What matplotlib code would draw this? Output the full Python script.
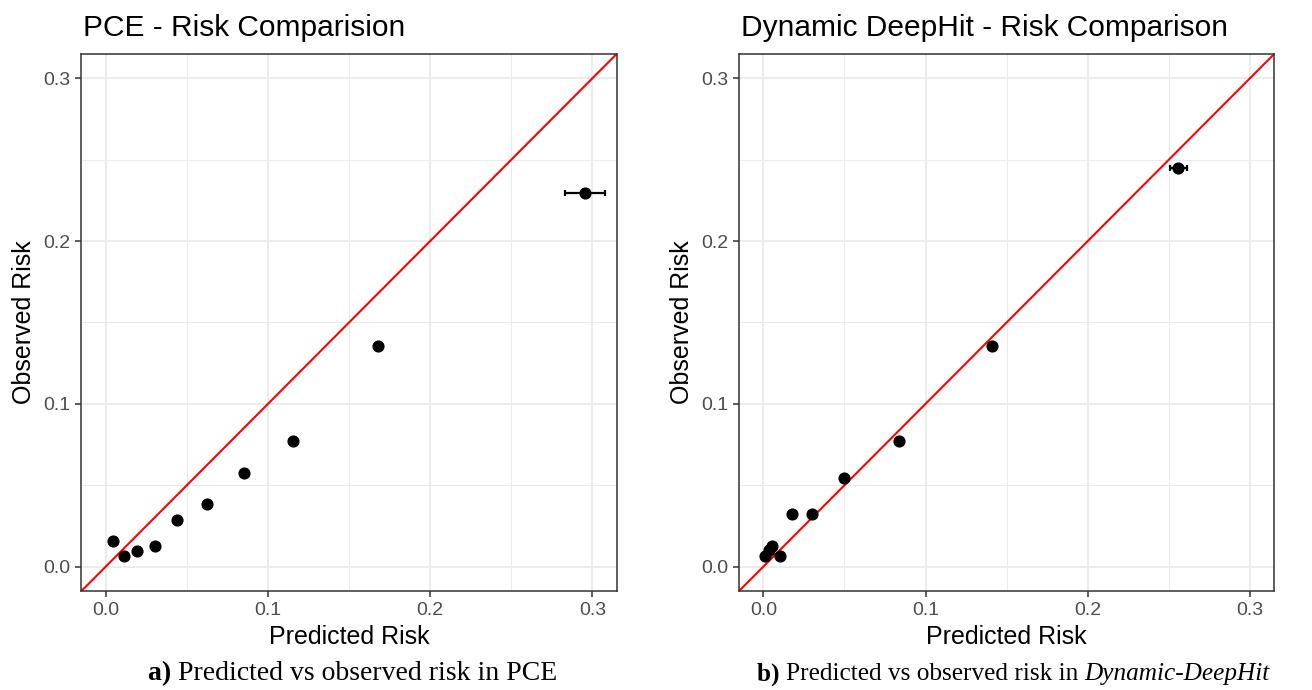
import numpy as np
import matplotlib
matplotlib.use("Agg")
import matplotlib.pyplot as plt

plt.rcParams['font.family'] = ['Liberation Sans', 'DejaVu Sans']

# данные: PCE
pce_pred = [0.0042, 0.0110, 0.0193, 0.0306, 0.0440, 0.0622, 0.0851, 0.1156, 0.1678, 0.2955]
pce_obs = [0.0159, 0.0062, 0.0093, 0.0126, 0.0287, 0.0384, 0.0577, 0.0774, 0.1355, 0.2296]
pce_lo = [0.0042, 0.0110, 0.0193, 0.0306, 0.0440, 0.0622, 0.0851, 0.1156, 0.1678, 0.2831]
pce_hi = [0.0042, 0.0110, 0.0193, 0.0306, 0.0440, 0.0622, 0.0851, 0.1156, 0.1678, 0.3078]

# данные: Dynamic DeepHit
ddh_pred = [0.0008, 0.0035, 0.0056, 0.0103, 0.0175, 0.0299, 0.0499, 0.0835, 0.1407, 0.2558]
ddh_obs = [0.0062, 0.0103, 0.0128, 0.0062, 0.0320, 0.0320, 0.0546, 0.0769, 0.1355, 0.2450]
ddh_lo = [0.0008, 0.0035, 0.0056, 0.0103, 0.0175, 0.0299, 0.0499, 0.0835, 0.1407, 0.2504]
ddh_hi = [0.0008, 0.0035, 0.0056, 0.0103, 0.0175, 0.0299, 0.0499, 0.0835, 0.1407, 0.2613]

titles = ['PCE - Risk Comparision', 'Dynamic DeepHit - Risk Comparison']
ticks = [0.0, 0.1, 0.2, 0.3]
tick_labels = ['0.0', '0.1', '0.2', '0.3']
minor_ticks = [0.05, 0.15, 0.25]


def draw_panel(ax, pred, obs, lo, hi, title):
    ax.set_xlim(-0.015, 0.315)
    ax.set_ylim(-0.015, 0.315)
    ax.set_xticks(ticks)
    ax.set_xticklabels(tick_labels)
    ax.set_yticks(ticks)
    ax.set_yticklabels(tick_labels)
    ax.set_xticks(minor_ticks, minor=True)
    ax.set_yticks(minor_ticks, minor=True)
    ax.grid(True, which='major', color='#EBEBEB', linewidth=1.3)
    ax.grid(True, which='minor', color='#EBEBEB', linewidth=0.7)
    ax.set_axisbelow(True)
    ax.tick_params(which='minor', length=0)
    ax.tick_params(which='major', length=4, width=1.1, color='#333333',
                   labelsize=14, labelcolor='#4D4D4D', pad=4)
    for s in ax.spines.values():
        s.set_color('#333333')
        s.set_linewidth(1.1)
    pred = np.array(pred)
    xerr = [pred - np.array(lo), np.array(hi) - pred]
    ax.errorbar(pred, obs, xerr=xerr, fmt='none', ecolor='black', elinewidth=1.6,
                capsize=2.5, capthick=1.6, zorder=3)
    ax.scatter(pred, obs, s=60, color='black', zorder=4)
    ax.axline((0, 0), slope=1, color='red', linewidth=1.5, zorder=2)
    ax.set_xlabel('Predicted Risk', fontsize=18, labelpad=4)
    ax.set_ylabel('Observed Risk', fontsize=18, labelpad=5)
    ax.set_title(title, fontsize=21.5, loc='left', pad=13, x=0.003)


fig = plt.figure(figsize=(13.12, 6.9), dpi=100)
ax1 = fig.add_axes([0.0621, 0.1435, 0.408, 0.7785])
ax2 = fig.add_axes([0.5633, 0.1435, 0.408, 0.7785])

draw_panel(ax1, pce_pred, pce_obs, pce_lo, pce_hi, titles[0])
draw_panel(ax2, ddh_pred, ddh_obs, ddh_lo, ddh_hi, titles[1])

# подписи под панелями: жирная буква, обычный текст, курсив
serif = ['Liberation Serif', 'DejaVu Serif']
y_cap = 0.014


def caption(x, parts, size):
    fig.canvas.draw()
    for text, kw in parts:
        t = fig.text(x, y_cap, text, fontsize=size, family=serif, va='baseline', **kw)
        fig.canvas.draw()
        x = t.get_window_extent().x1 / fig.bbox.width


caption(0.1128, [('a) ', dict(weight='bold')),
                 ('Predicted vs observed risk in PCE', {})], 20)
caption(0.577, [('b) ', dict(weight='bold')),
                ('Predicted vs observed risk in ', {}),
                ('Dynamic-DeepHit', dict(style='italic'))], 18.2)

fig.savefig('out.png', dpi=100)
